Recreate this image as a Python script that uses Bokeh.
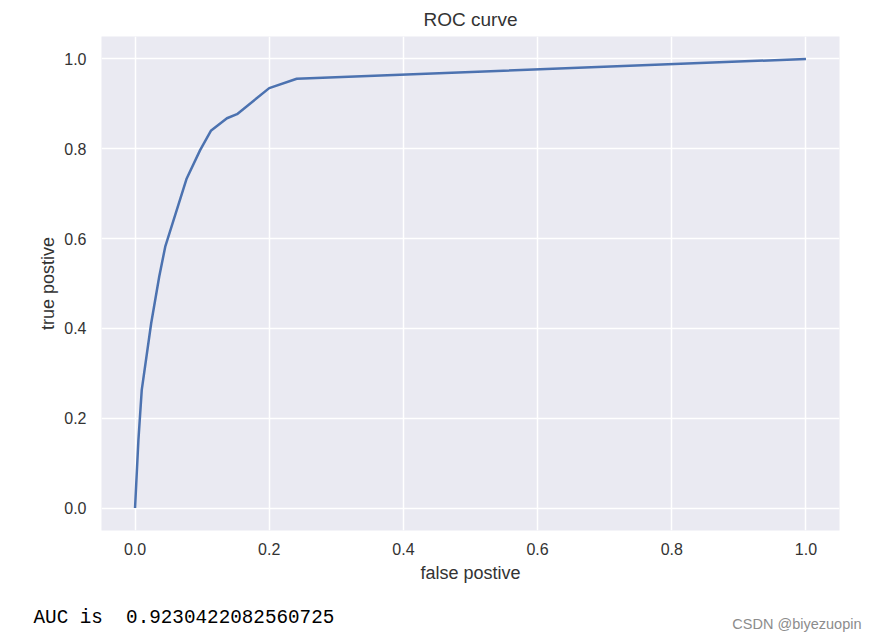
from bokeh.plotting import figure
from bokeh.layouts import column
from bokeh.models import FixedTicker, NumeralTickFormatter, Range1d
from bokeh.core.properties import value
from bokeh.embed import file_html
from bokeh.resources import INLINE

fpr = [0.0, 0.005, 0.010, 0.024, 0.036, 0.045, 0.077, 0.097, 0.113, 0.137, 0.152, 0.200, 0.241, 1.0]
tpr = [0.0, 0.151, 0.263, 0.411, 0.515, 0.582, 0.734, 0.797, 0.840, 0.868, 0.877, 0.935, 0.956, 1.0]
ticks = [0.0, 0.2, 0.4, 0.6, 0.8, 1.0]
title_text = "ROC curve"
xlabel = "false postive"
ylabel = "true postive"
auc_text = ["AUC is \u00a00.9230422082560725"]
mark_text = ["CSDN @biyezuopin"]

FONT = "Liberation Sans"
W = 862

p = figure(width=W, height=590, output_backend="svg", toolbar_location=None,
           x_range=Range1d(-0.05, 1.05), y_range=Range1d(-0.05, 1.05),
           min_border_left=101, min_border_right=W - 839, min_border_top=36, min_border_bottom=60,
           background_fill_color="#EAEAF2", border_fill_color="white")
p.frame_align = False
p.outline_line_color = None
p.title.text = title_text
p.title.align = "center"
p.title.text_font = FONT
p.title.text_font_size = "19px"
p.title.text_font_style = "normal"
p.title.text_color = "#333333"
p.title.standoff = 13

for ax in (p.xaxis, p.yaxis):
    ax.ticker = FixedTicker(ticks=ticks)
    ax.formatter = NumeralTickFormatter(format="0.0")
    ax.axis_line_color = None
    ax.major_tick_line_color = None
    ax.minor_tick_line_color = None
    ax.major_label_text_font = FONT
    ax.major_label_text_font_size = "16px"
    ax.major_label_text_color = "#333333"
    ax.axis_label_text_font = FONT
    ax.axis_label_text_font_size = "18px"
    ax.axis_label_text_font_style = "normal"
    ax.axis_label_text_color = "#333333"

p.xaxis.axis_label = xlabel
p.yaxis.axis_label = ylabel
p.xaxis.major_label_standoff = 6
p.yaxis.major_label_standoff = 9
p.xaxis.axis_label_standoff = 5
p.yaxis.axis_label_standoff = 3

p.grid.grid_line_color = "white"
p.grid.grid_line_width = 1.5
p.xgrid.ticker = FixedTicker(ticks=ticks)
p.ygrid.ticker = FixedTicker(ticks=ticks)

p.line(fpr, tpr, line_color="#4C72B0", line_width=2.5)

# bottom strip with the printed AUC and watermark
q = figure(width=W, height=45, output_backend="svg", toolbar_location=None,
           x_range=Range1d(0, W), y_range=Range1d(45, 0),
           x_axis_location=None, y_axis_location=None,
           min_border=0, border_fill_color="white", background_fill_color="white")
q.frame_align = False
q.grid.visible = False
q.outline_line_color = None
q.text(x=[33], y=[27], text=auc_text, text_font=value("Liberation Mono"),
       text_font_size="19.3px", text_baseline="middle", text_align="left", text_color="black")
q.text(x=[861], y=[33], text=mark_text, text_font=value(FONT),
       text_font_size="14.5px", text_baseline="middle", text_align="right", text_color="#8c8c8c")

open("out.html", "w").write(file_html(column(p, q, spacing=0), INLINE))
